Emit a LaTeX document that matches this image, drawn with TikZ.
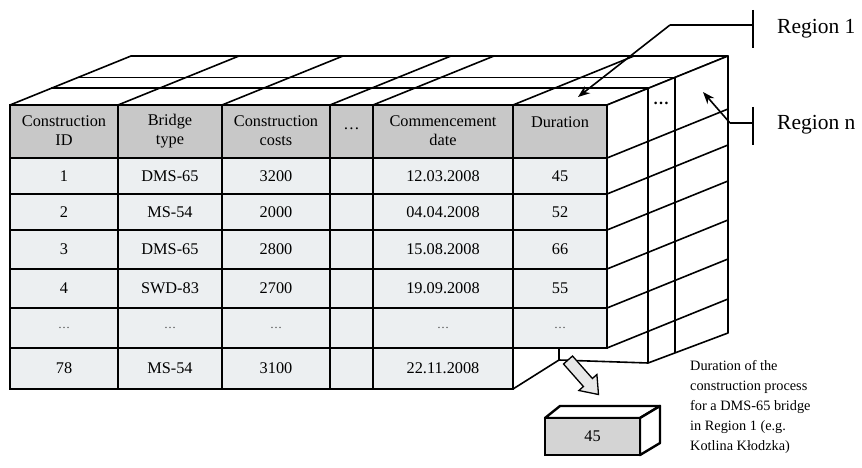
\documentclass[tikz,border=0pt]{standalone}
\usepackage{fontspec}
\setmainfont{Liberation Serif}
\usetikzlibrary{arrows.meta}
\definecolor{headgray}{RGB}{200,200,200}
\definecolor{rowfill}{RGB}{236,239,241}
\definecolor{boxgray}{RGB}{212,212,212}
\newcommand{\rdots}{{\fontsize{12}{14}\selectfont\textcolor{black!75}{…}}}
\begin{document}
\begin{tikzpicture}[x=1pt,y=-1pt,
  grid/.style={line width=2pt},
  thin3d/.style={line width=1.6pt, line join=round},
  txt/.style={font=\fontsize{16.3}{19}\selectfont, align=center, inner sep=0pt},
  regtxt/.style={font=\fontsize{21.5}{24}\selectfont, inner sep=0pt, anchor=west},
  note/.style={font=\fontsize{14.3}{20}\selectfont, align=left, inner sep=0pt, anchor=north west},
  pointer/.style={thin3d, -{Stealth[length=12pt,width=9pt]}}]
\useasboundingbox (0,0) rectangle (862,468);
\fill[white] (0,0) rectangle (862,468);

% top face
\draw[thin3d, fill=white] (10,105) -- (607,105) -- (728,56) -- (131,56) -- cycle;
\foreach \x in {118,222,330,373,513}
  \draw[thin3d] (\x,105) -- ++(121,-49);
\draw[thin3d] (51.1,88.3) -- (648.1,88.3);
\draw[thin3d] (77.8,77.6) -- (674.8,77.6);

% side face
\draw[thin3d, fill=white] (607,105) -- (728,56) -- (728,333) -- (648.1,363) -- (559,360) -- (559,348) -- (607,348) -- cycle;
\draw[thin3d] (648.1,88.3) -- (648.1,363);
\draw[thin3d] (674.8,77.6) -- (674.8,352.5);
\foreach \y in {158,194,230,269,308,348}
  \draw[thin3d] (607,\y) -- ++(121,-49);
\draw[thin3d] (513,389) -- (559,360);

% front face: header
\foreach \xa/\xb in {10/118,118/222,222/330,330/373,373/513,513/607}
  \draw[grid, fill=headgray] (\xa,105) rectangle (\xb,158);
% data rows
\foreach \ya/\yb in {158/194,194/230,230/269,269/308,308/348}
  \foreach \xa/\xb in {10/118,118/222,222/330,330/373,373/513,513/607}
    \draw[grid, fill=rowfill] (\xa,\ya) rectangle (\xb,\yb);
\foreach \xa/\xb in {10/118,118/222,222/330,330/373,373/513}
  \draw[grid, fill=rowfill] (\xa,348) rectangle (\xb,389);

% header texts
\node[txt] (h1) at (64,131) {Construction\\ID};
\node[txt] (h2) at (170,131) {Bridge\\type};
\node[txt] (h3) at (276,131) {Construction\\costs};
\node[txt] (h4) at (351.5,129) {…};
\node[txt] (h5) at (443,131) {Commencement\\date};
\node[txt] (h6) at (560,122) {Duration};

% rows
\foreach [count=\i] \y/\a/\b/\c/\d/\e in {
  176/1/DMS-65/3200/12.03.2008/45,
  212/2/MS-54/2000/04.04.2008/52,
  249.5/3/DMS-65/2800/15.08.2008/66,
  288.5/4/SWD-83/2700/19.09.2008/55,
  328/\rdots/\rdots/\rdots/\rdots/\rdots,
  368.5/78/MS-54/3100/22.11.2008/{}} {
  \node[txt] (r\i-a) at (64,\y) {\a};
  \node[txt] (r\i-b) at (170,\y) {\b};
  \node[txt] (r\i-c) at (276,\y) {\c};
  \node[txt] (r\i-d) at (443,\y) {\d};
  \node[txt] (r\i-e) at (560,\y) {\e};
}

% dots on side
\node[txt, font=\fontsize{16}{19}\selectfont\bfseries] (sidedots) at (661,103) {…};

% region pointers
\coordinate (r1top) at (753,10);
\coordinate (r1bot) at (753,48);
\coordinate (r1bar) at (753,25);
\coordinate (r1knee) at (670,25);
\coordinate (r1tip) at (578,97);
\draw[thin3d] (r1top) -- (r1bot);
\draw[thin3d] (r1bar) -- (r1knee);
\draw[pointer] (r1knee) -- (r1tip);
\node[regtxt] (reg1) at (777,29) {Region 1};

\coordinate (rntop) at (753,107);
\coordinate (rnbot) at (753,145);
\coordinate (rnbar) at (753,123);
\coordinate (rnknee) at (730,123);
\coordinate (rntip) at (703,92);
\draw[thin3d] (rntop) -- (rnbot);
\draw[thin3d] (rnbar) -- (rnknee);
\draw[pointer] (rnknee) -- (rntip);
\node[regtxt] (regn) at (777,125) {Region n};

% hollow arrow
\draw[line width=1.3pt, fill=gray!18, line join=miter]
  (563.5,364.0) -- (572.5,356.0) -- (592.4,378.5) -- (596.9,374.5) -- (598.5,394.5)
  -- (578.9,390.5) -- (583.4,386.5) -- cycle;

% extracted value box
\draw[line width=2.4pt, fill=white, line join=round] (545,418) -- (560,406) -- (660,406) -- (640,418) -- cycle;
\draw[line width=2.4pt, fill=white, line join=round] (640,418) -- (660,406) -- (660,443) -- (640,455) -- cycle;
\draw[line width=2.4pt, fill=boxgray] (545,418) rectangle (640,455);
\node[txt] (val) at (592.5,436.5) {45};

\node[note] (desc) at (690,360) {Duration of the\\construction process\\for a DMS-65 bridge\\in Region 1 (e.g.\\Kotlina Kłodzka)};
\end{tikzpicture}
\end{document}
